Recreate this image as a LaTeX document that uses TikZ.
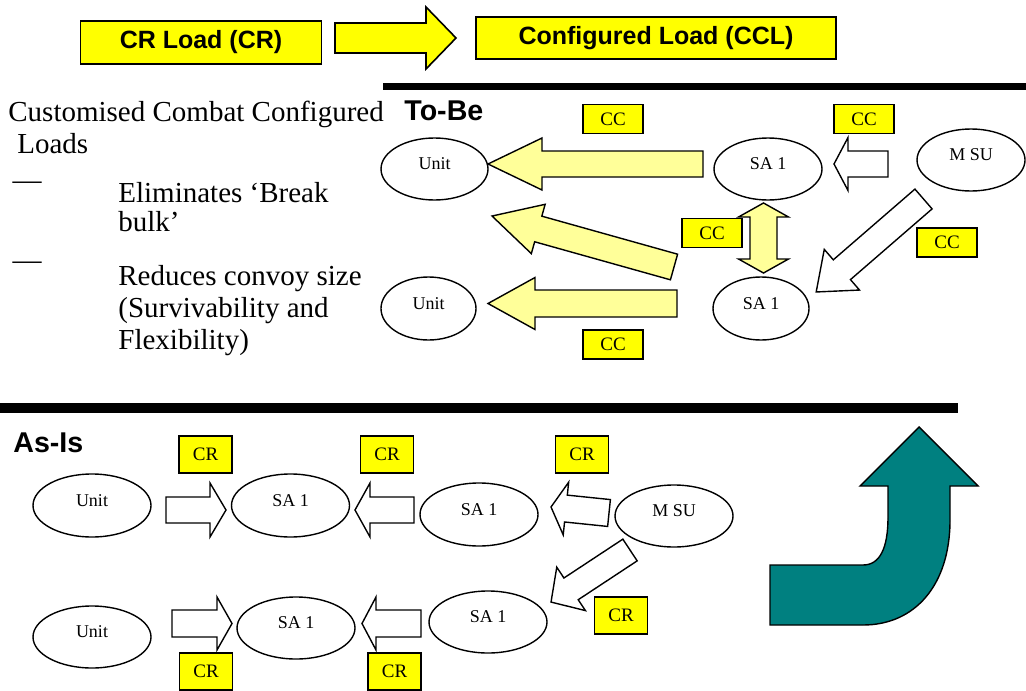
\documentclass[tikz,border=0pt]{standalone}
\usepackage{fontspec}
\setmainfont{Liberation Serif}
\setsansfont{Liberation Sans}
\usetikzlibrary{shapes.geometric}
\definecolor{tagyel}{RGB}{255,255,0}
\definecolor{arryel}{RGB}{255,255,153}
\definecolor{bendteal}{RGB}{0,128,128}
\newcommand{\blockarr}[7]{\draw[#1,shift={(#2)},rotate=#3] (0,-#5)--(#4-#7,-#5)--(#4-#7,-#6)--(#4,0)--(#4-#7,#6)--(#4-#7,#5)--(0,#5)--cycle;}

\begin{document}
\begin{tikzpicture}[x=.5pt,y=-.5pt,
    ell/.style={ellipse,draw,line width=.7pt,inner sep=0pt,font=\fontsize{9}{10}\selectfont,text height=6.5pt,text depth=6pt},
    tag/.style={draw,line width=.7pt,fill=tagyel,inner sep=0pt,font=\fontsize{9.5}{10}\selectfont},
    ttl/.style={draw,line width=.8pt,fill=tagyel,inner sep=0pt,font=\sffamily\bfseries\fontsize{12.5}{14}\selectfont},
    hdr/.style={anchor=base west,inner sep=0pt,font=\sffamily\bfseries\fontsize{14.3}{16}\selectfont},
    txt/.style={anchor=base west,inner sep=0pt,font=\fontsize{14.5}{16}\selectfont},
    yarr/.style={draw,line width=.7pt,fill=arryel},
    warr/.style={draw,line width=.7pt,fill=white}
  ]
    \useasboundingbox (0,0) rectangle (1026,690);
    % banner
    \node[ttl,minimum width=120.5pt,minimum height=21.5pt] (crload) at (201,42.5) {CR Load (CR)};
    \node[ttl,minimum width=180pt,minimum height=21pt] (ccload) at (656,38) {Configured Load (CCL)};
    \blockarr{draw,line width=.8pt,fill=tagyel}{335,38}{0}{121}{15}{31}{30}
    \fill (383,83) rectangle (1026,90);
    \fill (0,403) rectangle (958,413);
    % bullet text
    \node[txt] (l1) at (8,121) {Customised Combat Configured};
    \node[txt] (l2) at (17,153) {Loads};
    \node[txt] (l3) at (118,202) {Eliminates ‘Break};
    \node[txt] (l4) at (118,231) {bulk’};
    \node[txt] (l5) at (118,285) {Reduces convoy size};
    \node[txt] (l6) at (118,317) {(Survivability and};
    \node[txt] (l7) at (118,349) {Flexibility)};
    \node[inner sep=0pt,font=\fontsize{14.5}{16}\selectfont] (d1) at (27,186) {—};
    \node[inner sep=0pt,font=\fontsize{14.5}{16}\selectfont] (d2) at (27,266) {—};
    % to-be
    \node[hdr] (tobe) at (404,120) {To-Be};
    \node[ell,minimum width=53.5pt,minimum height=31pt] (unitA) at (434.5,169) {Unit};
    \node[ell,minimum width=54pt,minimum height=31pt] (saA) at (768,169) {SA 1};
    \node[ell,minimum width=54pt,minimum height=31pt] (msuA) at (971,160) {M SU};
    \node[ell,minimum width=48pt,minimum height=31.5pt] (saB) at (761,308.5) {SA 1};
    \node[ell,minimum width=47.5pt,minimum height=31.5pt] (unitB) at (428.5,308.5) {Unit};
    \foreach \n/\p in {cc1/{613,119},cc2/{864,119},cc3/{712,233},cc4/{947,242.5},cc5/{613,344.5}}
      {\node[tag,minimum width=30pt,minimum height=14.5pt] (\n) at (\p) {CC};}
    \foreach \p/\a/\l/\w/\h/\k in {{703,164}/180/215/13/26/54,{674,267}/164.35/189/13.3/25.6/48,{677,303.5}/180/189/13.5/26/47}
      {\blockarr{yarr}{\p}{\a}{\l}{\w}{\h}{\k}}
    \foreach \p/\a/\l/\w/\h/\k in {{888,164}/180/54/13/26.5/14,{923.5,199}/220.9/142/13.1/26.9/34}
      {\blockarr{warr}{\p}{\a}{\l}{\w}{\h}{\k}}
    \draw[yarr] (763.5,203)--(788.5,217)--(777,217)--(777,259)--(788.5,259)--(763.5,273)--(738.5,259)--(750,259)--(750,217)--(738.5,217)--cycle;
    % as-is
    \node[hdr] (asis) at (13,452) {As-Is};
    \node[ell,minimum width=59pt,minimum height=31.5pt] (unitC) at (92,505.5) {Unit};
    \node[ell,minimum width=59pt,minimum height=31.5pt] (saC) at (290.5,505.5) {SA 1};
    \node[ell,minimum width=59pt,minimum height=31.5pt] (saD) at (479,514.5) {SA 1};
    \node[ell,minimum width=59pt,minimum height=31pt] (msuB) at (674,516) {M SU};
    \node[ell,minimum width=59pt,minimum height=31pt] (unitD) at (92,637) {Unit};
    \node[ell,minimum width=59pt,minimum height=31pt] (saE) at (296,628) {SA 1};
    \node[ell,minimum width=59pt,minimum height=31pt] (saF) at (488,622) {SA 1};
    \foreach \n/\p in {cr1/{205.5,454.5},cr2/{387,454.5},cr3/{582,454.5},cr4/{621,615.5},cr5/{206,671.5},cr6/{394.5,671.5}}
      {\node[tag,minimum width=26.5pt,minimum height=18.5pt] (\n) at (\p) {CR};}
    \foreach \p/\a/\l/\w/\h/\k in {{166,510}/0/60/13/27/16,{414,510}/180/59/13/27/15,{609,513}/174.1/58.3/13.5/26.5/15,
      {630,550}/213.4/94.6/13/26/24,{172,623.5}/0/60/13.5/26.5/15,{421,623.5}/180/59/13.5/26.5/14}
      {\blockarr{warr}{\p}{\a}{\l}{\w}{\h}{\k}}
    \draw[line width=.7pt,fill=bendteal] (770,565)--(863,565) .. controls (880,565) and (888,548) .. (888,517)--(888,486)--(860,486)--(919,427)--(978,486)--(950,486)--(950,520) .. controls (950,585) and (915,625) .. (863,625)--(770,625)--cycle;
  \end{tikzpicture}
\end{document}
